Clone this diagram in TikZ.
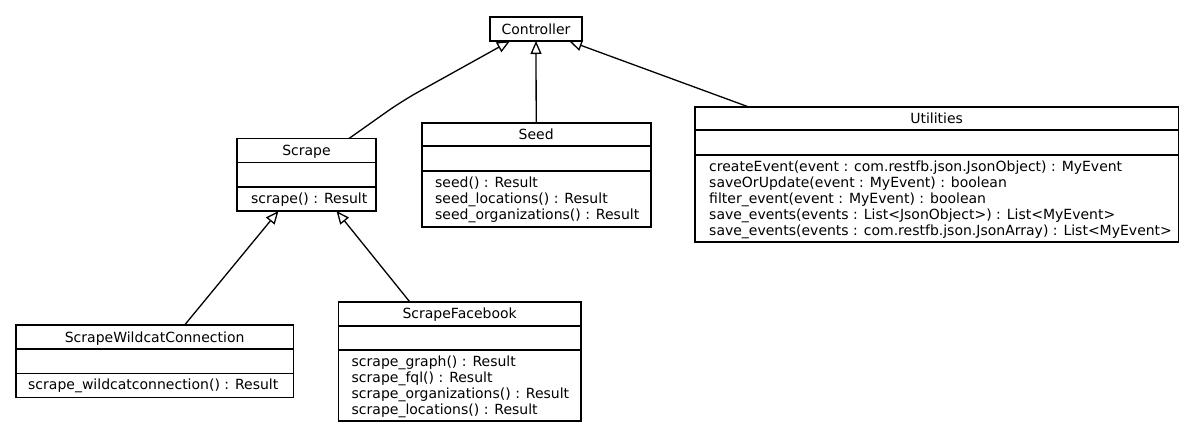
\documentclass[tikz,border=0pt]{standalone}
\usepackage{fontspec}
\setmainfont{DejaVu Sans}
\usetikzlibrary{arrows.meta}
\tikzset{
  classbox/.style={draw, line width=1.6pt, inner sep=0pt, outer sep=0pt, anchor=north west},
  sepline/.style={line width=1.6pt},
  ttl/.style={inner sep=0pt, anchor=base, font=\fontsize{14}{16}\selectfont},
  meth/.style={inner sep=0pt, anchor=base west, font=\fontsize{14}{16}\selectfont},
  gen/.style={line width=1.3pt, -{Triangle[open, length=13pt, width=11pt, line width=1.3pt]}},
}
% #1 name, #2 left, #3 top, #4 width, #5 height, #6 sep1, #7 sep2, #8 title
\newcommand{\umlclass}[8]{%
  \node[classbox, minimum width=#4pt, minimum height=#5pt] (#1) at (#2,#3) {};
  \draw[sepline] ([yshift=-#6pt]#1.north west) -- ([yshift=-#6pt]#1.north east);
  \draw[sepline] ([yshift=-#7pt]#1.north west) -- ([yshift=-#7pt]#1.north east);
  \node[ttl] (#1-t) at ([yshift=-17pt]#1.north) {#8};
}
% #1 name, #2 x, #3 first baseline y, #4 list
\newcommand{\umlmethods}[4]{%
  \foreach \mtext [count=\mi] in {#4}{
    \node[meth] (#1-m\mi) at ({#2},{#3+16*(\mi-1)}) {\mtext};
  }
}
\begin{document}
\begin{tikzpicture}[x=1pt,y=-1pt]
\useasboundingbox[fill=white] (0,0) rectangle (1195,432);

% Controller
\node[classbox, minimum width=92pt, minimum height=24pt] (controller) at (490,17) {};
\node[ttl] (controller-t) at ([yshift=-17pt]controller.north) {Controller};

% Scrape
\umlclass{scrape}{237}{138.5}{139}{72.5}{24}{48.5}{Scrape}
\umlmethods{scrape}{251}{203.5}{{scrape() : Result}}

% Seed
\umlclass{seed}{421.7}{122.7}{229}{104}{23.3}{48}{Seed}
\umlmethods{seed}{435}{187.2}{{seed() : Result},{seed\_locations() : Result},{seed\_organizations() : Result}}

% Utilities
\umlclass{utilities}{695}{106.7}{483.3}{135}{23.3}{48.3}{Utilities}
\umlmethods{utilities}{709}{171.5}{{createEvent(event : com.restfb.json.JsonObject) : MyEvent},{saveOrUpdate(event : MyEvent) : boolean},{filter\_event(event : MyEvent) : boolean},{save\_events(events : List<JsonObject>) : List<MyEvent>},{save\_events(events : com.restfb.json.JsonArray) : List<MyEvent>}}

% ScrapeWildcatConnection
\umlclass{swc}{16}{325}{277.3}{72.3}{24}{48.3}{ScrapeWildcatConnection}
\umlmethods{swc}{28}{389.8}{{scrape\_wildcatconnection() : Result}}

% ScrapeFacebook
\umlclass{sf}{338.3}{301.7}{242.7}{119.3}{24}{48}{ScrapeFacebook}
\umlmethods{sf}{351.5}{366.2}{{scrape\_graph() : Result},{scrape\_fql() : Result},{scrape\_organizations() : Result},{scrape\_locations() : Result}}

% generalizations
\coordinate (bend) at (402,101);
\draw[gen, rounded corners=18pt] ([xshift=42.5pt]scrape.north) -- (bend) -- ([xshift=-26pt]controller.south);
\draw[gen] (seed.north) -- (controller.south);
\draw[gen] ([xshift=53pt]utilities.north west) -- ([xshift=33pt]controller.south);
\draw[gen] ([xshift=30pt]swc.north) -- ([xshift=-28pt]scrape.south);
\draw[gen] ([xshift=-50pt]sf.north) -- ([xshift=30pt]scrape.south);
\end{tikzpicture}
\end{document}
